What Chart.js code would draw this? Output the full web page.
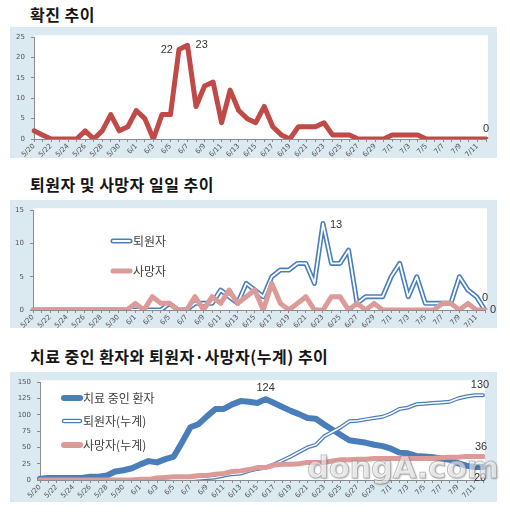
<!DOCTYPE html>
<html>
<head>
<meta charset="utf-8">
<script src="https://cdn.jsdelivr.net/npm/chart.js@4.4.0/dist/chart.umd.min.js"></script>
<style>
  body { margin:0; width:510px; height:517px; background:#fff; position:relative; overflow:hidden; font-family:"Noto Sans CJK KR", sans-serif; }
  .title { position:absolute; left:30px; font-size:16px; font-weight:bold; color:#151515; letter-spacing:0.5px; white-space:nowrap; line-height:20px; }
  .box { position:absolute; left:10px; }
  canvas { display:block; }
  .wm { position:absolute; left:307px; top:449px; font:bold 31px "DejaVu Sans"; color:rgba(255,255,255,0.6);
        -webkit-text-stroke:1px rgba(130,130,130,0.5);
        text-shadow:1px 1px 2px rgba(0,0,0,0.25); line-height:36px; letter-spacing:-0.5px; white-space:nowrap; }
</style>
</head>
<body>
<div class="title" style="top:4px">확진 추이</div>
<div class="box" style="top:27px"><canvas id="c1" width="487" height="131"></canvas></div>
<div class="title" style="top:174px">퇴원자 및 사망자 일일 추이</div>
<div class="box" style="top:200px"><canvas id="c2" width="487" height="128"></canvas></div>
<div class="title" style="top:346px">치료 중인 환자와 퇴원자·사망자(누계) 추이</div>
<div class="box" style="top:372px"><canvas id="c3" width="487" height="130"></canvas></div>
<div class="wm">dongA.com</div>
<script>
const dates = ['5/20','5/21','5/22','5/23','5/24','5/25','5/26','5/27','5/28','5/29','5/30','5/31',
  '6/1','6/2','6/3','6/4','6/5','6/6','6/7','6/8','6/9','6/10','6/11','6/12','6/13','6/14','6/15',
  '6/16','6/17','6/18','6/19','6/20','6/21','6/22','6/23','6/24','6/25','6/26','6/27','6/28','6/29','6/30',
  '7/1','7/2','7/3','7/4','7/5','7/6','7/7','7/8','7/9','7/10','7/11','7/12'];

// 확진 (daily)
const confirmed = [2,1,0,0,0,0,2,0,2,6,2,3,
  7,5,0,6,6,22,23,8,13,14,4,12,7,5,4,8,3,1,0,3,3,3,4,1,1,1,0,0,0,0,
  1,1,1,1,0,0,0,0,0,0,0,0];

// 퇴원자 / 사망자 (daily)
const dischargedDaily = [0,0,0,0,0,0,0,0,0,0,0,0,0,0,0,0,
  1,0,0,1,1,1,3,2,1,4,3,2,5,6,6,7,7,4,13,7,7,9,1,2,2,2,
  5,7,2,5,1,1,1,1,5,3,2,0];
const deathsDaily = [0,0,0,0,0,0,0,0,0,0,0,0,
  1,0,2,1,1,0,0,2,0,2,1,3,1,2,3,0,4,1,0,1,2,0,0,2,2,0,1,0,1,0,
  0,0,0,0,0,0,1,1,0,1,0,0];

// 치료 중인 환자 / 퇴원자(누계) / 사망자(누계)
const treating = [2,3,3,3,3,3,5,5,7,13,15,18,
  24,29,27,32,36,58,81,86,98,109,109,116,121,120,118,124,118,112,106,101,95,94,85,77,69,61,59,57,54,52,
  48,42,41,37,36,35,33,31,26,22,20,20];
const dischargedTotal = [0,0,0,0,0,0,0,0,0,0,0,0,0,0,0,0,
  1,1,1,2,3,4,7,9,10,14,17,19,24,30,36,43,50,54,67,74,81,90,91,93,95,97,
  102,109,111,116,117,118,119,120,125,128,130,130];
const deathsTotal = [0,0,0,0,0,0,0,0,0,0,0,0,
  1,1,3,4,5,5,5,7,7,9,10,13,14,16,19,19,23,24,24,25,27,27,27,29,31,31,32,32,33,33,
  33,33,33,33,33,33,34,35,35,36,36,36];

const RED = '#bf4a47', BLUE = '#4a7ebb', PINK = '#dc9b99', FRAME = '#dbe9f0', AXIS = '#8c8c8c';

const bgPlugin = {
  id: 'bg',
  beforeDraw(chart) {
    const { ctx, chartArea: a, width, height } = chart;
    ctx.save();
    ctx.fillStyle = FRAME;
    ctx.fillRect(0, 0, width, height);
    ctx.fillStyle = '#fff';
    ctx.fillRect(a.left, a.top - 2, a.right - a.left + 2, a.bottom - a.top + 2);
    ctx.restore();
  }
};

const valueLabels = {
  id: 'valueLabels',
  afterDatasetsDraw(chart, args, opts) {
    const ctx = chart.ctx;
    ctx.save();
    ctx.font = '11px "Liberation Sans"';
    ctx.fillStyle = '#333';
    ctx.textBaseline = 'middle';
    (opts.items || []).forEach(it => {
      const el = chart.getDatasetMeta(it.ds).data[it.i];
      ctx.textAlign = it.align || 'center';
      ctx.fillText(String(chart.data.datasets[it.ds].data[it.i]), el.x + (it.dx || 0), el.y + (it.dy || 0));
    });
    ctx.restore();
  }
};

const inlineLegend = {
  id: 'inlineLegend',
  afterDraw(chart, args, opts) {
    const ctx = chart.ctx;
    ctx.save();
    ctx.font = '12px "Noto Sans CJK KR"';
    ctx.fillStyle = '#404040';
    ctx.textBaseline = 'middle';
    ctx.textAlign = 'left';
    ctx.lineCap = 'round';
    (opts.items || []).forEach(it => {
      it.lines.forEach(l => {
        ctx.strokeStyle = l.color;
        ctx.lineWidth = l.width;
        ctx.beginPath();
        ctx.moveTo(it.x1, it.y);
        ctx.lineTo(it.x2, it.y);
        ctx.stroke();
      });
      ctx.fillText(it.text, it.x2 + 3, it.y);
    });
    ctx.restore();
  }
};

function baseOptions(yMax, yStep, pad, yWidth, xHeight, labels, legend) {
  return {
    responsive: false,
    animation: false,
    devicePixelRatio: 1,
    layout: { padding: pad },
    elements: {
      point: { radius: 0, hoverRadius: 0 },
      line: { tension: 0, borderJoinStyle: 'round', borderCapStyle: 'round' }
    },
    plugins: {
      legend: { display: false },
      tooltip: { enabled: false },
      valueLabels: { items: labels },
      inlineLegend: { items: legend || [] }
    },
    scales: {
      x: {
        grid: { display: true, drawOnChartArea: false, tickLength: 3, color: AXIS },
        border: { color: AXIS },
        ticks: {
          autoSkip: false, minRotation: 45, maxRotation: 45, padding: 0,
          color: '#555', font: { size: 7, family: 'DejaVu Sans' },
          callback: (v, i) => (i % 2 === 0 ? dates[i] : '')
        },
        afterFit: s => { s.height = xHeight; }
      },
      y: {
        min: 0, max: yMax,
        grid: { display: true, drawOnChartArea: false, tickLength: 3, color: AXIS },
        border: { color: AXIS },
        ticks: { stepSize: yStep, padding: 6, color: '#555', font: { size: 7, family: 'DejaVu Sans' } },
        afterFit: s => { s.width = yWidth; }
      }
    }
  };
}

// 확진 추이
new Chart(document.getElementById('c1'), {
  type: 'line',
  data: {
    labels: dates,
    datasets: [{ label: '확진', data: confirmed, borderColor: RED, borderWidth: 5 }]
  },
  options: baseOptions(25, 5, { left: 0, top: 8, right: 11, bottom: 0 }, 24, 19, [
    { ds: 0, i: 17, align: 'right', dx: -6, dy: 1 },
    { ds: 0, i: 18, align: 'left', dx: 8, dy: 0 },
    { ds: 0, i: 53, align: 'center', dx: 0, dy: -10 }
  ]),
  plugins: [bgPlugin, valueLabels]
});

// 퇴원자 및 사망자 일일 추이
new Chart(document.getElementById('c2'), {
  type: 'line',
  data: {
    labels: dates,
    datasets: [
      { label: '퇴원자', data: dischargedDaily, borderColor: BLUE, borderWidth: 5, order: 2 },
      { label: '퇴원자', data: dischargedDaily, borderColor: '#fff', borderWidth: 1.8, order: 1 },
      { label: '사망자', data: deathsDaily, borderColor: PINK, borderWidth: 5, order: 0 }
    ]
  },
  options: baseOptions(15, 5, { left: 0, top: 6, right: 12, bottom: 0 }, 23, 18, [
    { ds: 0, i: 34, align: 'left', dx: 7, dy: 1 },
    { ds: 0, i: 53, align: 'center', dx: 0, dy: -12 },
    { ds: 2, i: 53, align: 'left', dx: 5, dy: 0 }
  ], [
    { x1: 103, x2: 120, y: 41, text: '퇴원자', lines: [{ color: BLUE, width: 5 }, { color: '#fff', width: 1.8 }] },
    { x1: 103, x2: 120, y: 71, text: '사망자', lines: [{ color: PINK, width: 5 }] }
  ]),
  plugins: [bgPlugin, valueLabels, inlineLegend]
});

// 치료 중인 환자와 퇴원자·사망자(누계) 추이
new Chart(document.getElementById('c3'), {
  type: 'line',
  data: {
    labels: dates,
    datasets: [
      { label: '치료 중인 환자', data: treating, borderColor: BLUE, borderWidth: 6, order: 3 },
      { label: '퇴원자(누계)', data: dischargedTotal, borderColor: BLUE, borderWidth: 4, order: 2 },
      { label: '퇴원자(누계)', data: dischargedTotal, borderColor: '#fff', borderWidth: 1.5, order: 1 },
      { label: '사망자(누계)', data: deathsTotal, borderColor: PINK, borderWidth: 5, order: 0 }
    ]
  },
  options: baseOptions(150, 25, { left: 0, top: 7, right: 14, bottom: 0 }, 30, 22, [
    { ds: 0, i: 27, align: 'center', dx: 0, dy: -11 },
    { ds: 1, i: 53, align: 'center', dx: -3, dy: -10 },
    { ds: 3, i: 53, align: 'center', dx: -2, dy: -10 },
    { ds: 0, i: 53, align: 'center', dx: -3, dy: 11 }
  ], [
    { x1: 54, x2: 70, y: 26, text: '치료 중인 환자', lines: [{ color: BLUE, width: 6 }] },
    { x1: 54, x2: 70, y: 49, text: '퇴원자(누계)', lines: [{ color: BLUE, width: 4.5 }, { color: '#fff', width: 1.8 }] },
    { x1: 54, x2: 70, y: 73, text: '사망자(누계)', lines: [{ color: PINK, width: 6 }] }
  ]),
  plugins: [bgPlugin, valueLabels, inlineLegend]
});
</script>
</body>
</html>
